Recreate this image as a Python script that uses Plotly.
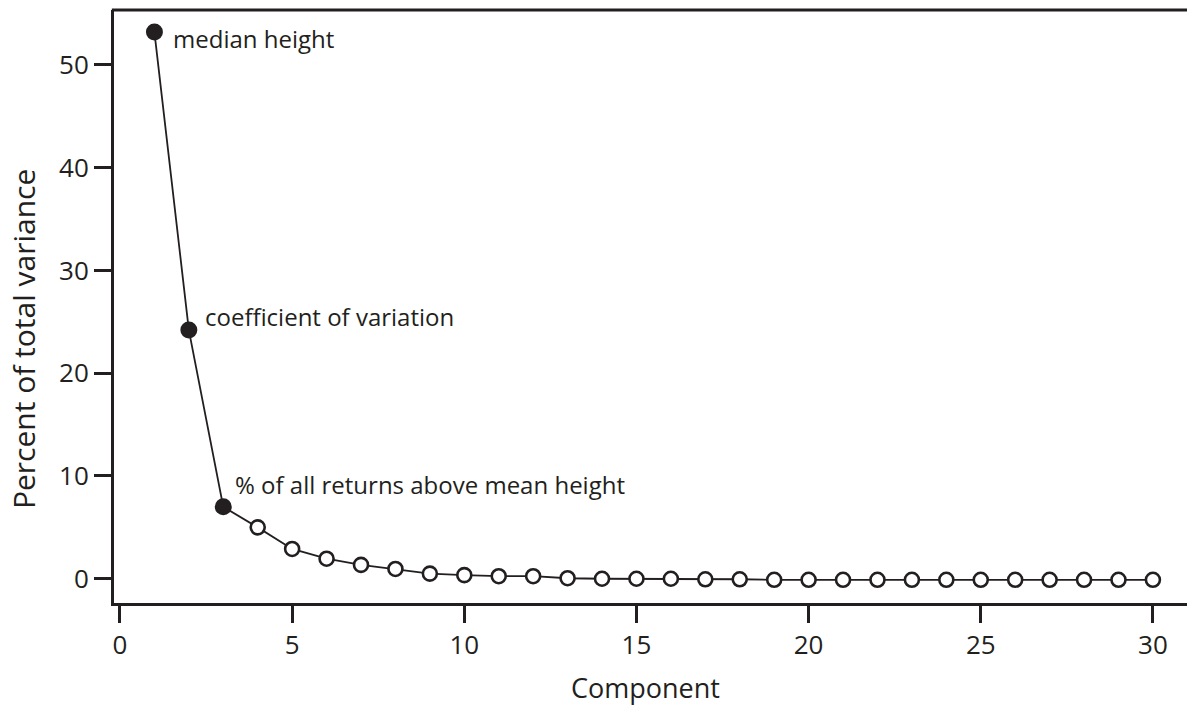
import plotly.graph_objects as go

components = list(range(1, 31))
variance_pct = [53.2, 24.2, 7.0, 5.0, 2.9, 1.95, 1.35, 0.95, 0.5, 0.35,
                0.25, 0.25, 0.05, 0.0, 0.0, 0.0, -0.05, -0.05, -0.1, -0.1,
                -0.1, -0.1, -0.1, -0.1, -0.1, -0.1, -0.1, -0.1, -0.1, -0.1]
highlighted = 3
labels = ["median height", "coefficient of variation", "% of all returns above mean height"]
label_shifts = [(17, -6), (14, 14), (10, 22)]

x_ticks = [0, 5, 10, 15, 20, 25, 30]
y_ticks = [0, 10, 20, 30, 40, 50]

INK = "#231f20"
FONT = "Open Sans"

fig = go.Figure()
fig.add_trace(go.Scatter(
    x=components, y=variance_pct, mode="lines",
    line=dict(color=INK, width=1.8), hoverinfo="skip", showlegend=False))
fig.add_trace(go.Scatter(
    x=components[highlighted:], y=variance_pct[highlighted:], mode="markers",
    marker=dict(size=14, color="white", line=dict(color=INK, width=2.6)),
    showlegend=False))
fig.add_trace(go.Scatter(
    x=components[:highlighted], y=variance_pct[:highlighted], mode="markers",
    marker=dict(size=17, color=INK, line=dict(width=0)),
    showlegend=False))

for i, (txt, (dx, dy)) in enumerate(zip(labels, label_shifts)):
    fig.add_annotation(x=components[i], y=variance_pct[i], xref="x", yref="y",
                       text=txt, showarrow=False, xanchor="left", yanchor="middle",
                       xshift=dx, yshift=dy, font=dict(family=FONT, size=24, color=INK))

fig.add_annotation(x=-0.0848, y=0.445, xref="paper", yref="paper",
                   text="Percent of total variance", textangle=-90, showarrow=False,
                   xanchor="center", yanchor="middle",
                   font=dict(family=FONT, size=30, color=INK))
fig.add_annotation(x=0.495, y=-0.142, xref="paper", yref="paper",
                   text="Component", showarrow=False,
                   xanchor="center", yanchor="middle",
                   font=dict(family=FONT, size=27, color=INK))

# top frame line (no right-hand frame line in the reference)
fig.add_shape(type="line", xref="paper", yref="paper", x0=-0.002, x1=1.0, y0=1, y1=1,
              line=dict(color=INK, width=3))

fig.update_xaxes(range=[-0.174, 30.99], tickvals=x_ticks, ticks="outside",
                 ticklen=17, tickwidth=2.5, tickcolor=INK, showline=True,
                 linecolor=INK, linewidth=3, mirror=False, showgrid=False,
                 zeroline=False, tickfont=dict(family=FONT, size=26, color=INK))
fig.update_yaxes(range=[-2.36, 55.35], tickvals=y_ticks, ticks="outside",
                 ticklen=17, tickwidth=2.5, tickcolor=INK, showline=True,
                 linecolor=INK, linewidth=3, mirror=False, showgrid=False,
                 zeroline=False, tickfont=dict(family=FONT, size=26, color=INK))

fig.update_layout(width=1187, height=705, plot_bgcolor="white", paper_bgcolor="white",
                  margin=dict(l=114, r=0, t=10, b=102), showlegend=False)

fig.write_html("out.html")
